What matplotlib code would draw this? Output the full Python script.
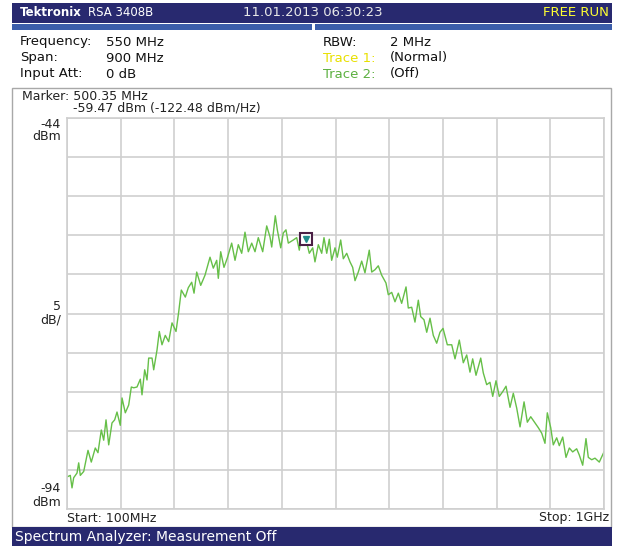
import matplotlib
matplotlib.use('Agg')
import matplotlib.pyplot as plt
from matplotlib.patches import Rectangle

# Trace: frequency (MHz) and level (dBm)
freq_mhz = [100, 105.5, 108.4, 111.2, 116.8, 119.6, 122.3, 128.0, 135.2, 140.7,
            147.4, 151.9, 157.5, 161.5, 165.4, 169.9, 175.4, 179.9, 183.8, 189.3,
            192.2, 197.7, 203.4, 207.8, 211.8, 217.3, 222.9, 225.7, 230.2, 234.1,
            236.9, 242.5, 245.3, 250.8, 254.7, 259.2, 264.7, 270.4, 276.0, 282.7,
            287.2, 291.6, 298.3, 303.3, 309.0, 312.9, 317.4, 324.1, 331.3, 339.7,
            345.2, 350.9, 353.6, 357.6, 363.1, 368.7, 376.0, 381.6, 387.1, 392.8,
            398.3, 403.9, 409.6, 415.1, 420.6, 428.0, 434.7, 440.2, 443.1, 449.1,
            452.5, 458.2, 462.5, 467.0, 470.9, 479.3, 485.0, 489.3, 493.4, 500.35,
            506.1, 511.8, 515.6, 521.2, 526.9, 530.7, 535.3, 539.6, 543.6, 549.2,
            553.0, 558.7, 563.1, 568.8, 574.3, 578.8, 582.7, 588.2, 593.9, 599.4,
            606.6, 610.7, 616.2, 621.7, 627.4, 634.6, 638.5, 644.2, 649.7, 655.3,
            660.9, 668.2, 672.0, 677.7, 683.2, 688.8, 692.8, 698.3, 702.9, 708.4,
            713.9, 719.6, 725.1, 730.2, 737.4, 744.8, 750.3, 757.5, 764.2, 769.9,
            775.4, 779.9, 785.5, 793.4, 797.7, 803.4, 808.9, 813.5, 819.0, 824.5,
            830.2, 835.8, 842.5, 848.0, 853.7, 859.3, 866.0, 871.5, 877.2, 884.4,
            889.9, 895.6, 901.1, 905.0, 910.7, 915.0, 920.7, 925.1, 930.8, 936.3,
            941.9, 947.5, 954.2, 958.6, 964.3, 969.8, 973.7, 979.4, 984.9, 992.1,
            1000]
level_dbm = [-89.9, -89.7, -91.3, -90.0, -89.4, -88.1, -89.7, -89.2, -86.5, -88.0,
             -86.2, -86.8, -83.9, -85.2, -82.6, -85.8, -83.0, -82.6, -81.6, -83.3,
             -79.8, -81.7, -80.7, -78.4, -78.5, -78.4, -77.4, -79.4, -76.2, -77.5,
             -74.7, -74.7, -76.2, -73.7, -71.3, -73.0, -71.8, -72.6, -70.2, -71.3,
             -68.8, -66.0, -66.9, -65.7, -65.0, -66.4, -63.7, -65.4, -64.1, -61.8,
             -63.2, -62.2, -64.5, -61.1, -63.1, -61.9, -60.0, -62.2, -60.2, -61.3,
             -58.6, -61.1, -60.0, -61.1, -59.3, -61.1, -57.8, -59.2, -60.5, -56.5,
             -58.3, -60.6, -58.7, -58.3, -60.0, -59.6, -59.3, -60.9, -59.0, -59.47,
             -61.3, -60.6, -62.4, -60.2, -61.3, -59.3, -61.3, -59.5, -62.2, -60.6,
             -61.8, -59.6, -62.0, -61.3, -62.4, -63.1, -64.8, -63.7, -62.3, -63.8,
             -60.9, -63.7, -63.4, -62.9, -64.1, -65.1, -66.6, -66.3, -67.5, -66.4,
             -67.7, -65.6, -68.3, -68.2, -70.1, -67.3, -69.4, -69.8, -71.4, -69.6,
             -71.8, -72.8, -71.4, -70.9, -73.0, -73.0, -74.8, -72.4, -75.3, -74.3,
             -76.5, -74.8, -76.9, -74.7, -76.6, -78.1, -77.8, -79.6, -77.6, -79.6,
             -79.0, -78.3, -81.0, -79.2, -81.1, -83.5, -80.3, -82.9, -82.2, -83.0,
             -83.6, -84.3, -85.6, -81.7, -83.6, -85.8, -84.9, -85.9, -84.8, -87.4,
             -86.2, -86.7, -86.3, -87.1, -88.4, -85.0, -87.4, -87.7, -87.5, -88.0,
             -86.7]

marker_freq = 500.35
marker_level = -59.47

x_ticks = [100 + 90 * i for i in range(11)]
y_ticks = [-94 + 5 * i for i in range(11)]

W, H = 620, 546
NAVY = '#28296f'
BLUE = '#3b5daa'


def fx(px):
    return px / W


def fy(py):
    return 1 - py / H


fig = plt.figure(figsize=(6.2, 5.46), dpi=100)
fig.patch.set_facecolor('white')

# title bar + blue strip
fig.patches.append(Rectangle((fx(12), fy(23)), fx(600), 20 / H, transform=fig.transFigure,
                             facecolor=NAVY, edgecolor='none'))
fig.patches.append(Rectangle((fx(12), fy(30)), fx(300), 6 / H, transform=fig.transFigure,
                             facecolor=BLUE, edgecolor='none'))
fig.patches.append(Rectangle((fx(315), fy(30)), fx(297), 6 / H, transform=fig.transFigure,
                             facecolor=BLUE, edgecolor='none'))
# panel frame and status bar
fig.patches.append(Rectangle((fx(12), fy(527)), fx(599), 439 / H, transform=fig.transFigure,
                             facecolor='none', edgecolor='#a8a8a8', linewidth=1))
fig.patches.append(Rectangle((fx(12), fy(546)), fx(600), 19 / H, transform=fig.transFigure,
                             facecolor=NAVY, edgecolor='none'))

fig.text(fx(20), fy(13), 'Tektronix', color='white', fontsize=8.5, fontweight='bold', va='center')
fig.text(fx(88), fy(13), 'RSA 3408B', color='white', fontsize=8.5, va='center')
fig.text(fx(313), fy(13), '11.01.2013 06:30:23', color='#e8e8e8', fontsize=9.5, va='center', ha='center')
fig.text(fx(609), fy(13), 'FREE RUN', color='#ffff33', fontsize=9.5, va='center', ha='right')

hdr = dict(fontsize=9.5, va='center', color='#111111')
fig.text(fx(20), fy(42), 'Frequency:', **hdr)
fig.text(fx(106), fy(42), '550 MHz', **hdr)
fig.text(fx(20), fy(58), 'Span:', **hdr)
fig.text(fx(106), fy(58), '900 MHz', **hdr)
fig.text(fx(20), fy(74), 'Input Att:', **hdr)
fig.text(fx(106), fy(74), '0 dB', **hdr)
fig.text(fx(323), fy(42), 'RBW:', **hdr)
fig.text(fx(390), fy(42), '2 MHz', **hdr)
fig.text(fx(323), fy(58), 'Trace 1:', fontsize=9.5, va='center', color='#e8e000')
fig.text(fx(390), fy(58), '(Normal)', **hdr)
fig.text(fx(323), fy(74), 'Trace 2:', fontsize=9.5, va='center', color='#5cb040')
fig.text(fx(390), fy(74), '(Off)', **hdr)

lbl = dict(fontsize=9, color='#222222')
fig.text(fx(22), fy(96), 'Marker: 500.35 MHz', va='center', **lbl)
fig.text(fx(73), fy(108), '-59.47 dBm (-122.48 dBm/Hz)', va='center', **lbl)
fig.text(fx(61), fy(124), '-44', ha='right', va='center', **lbl)
fig.text(fx(61), fy(137), 'dBm', ha='right', va='center', **lbl)
fig.text(fx(61), fy(306), '5', ha='right', va='center', **lbl)
fig.text(fx(61), fy(320), 'dB/', ha='right', va='center', **lbl)
fig.text(fx(61), fy(489), '-94', ha='right', va='center', **lbl)
fig.text(fx(61), fy(502), 'dBm', ha='right', va='center', **lbl)
fig.text(fx(67), fy(518), 'Start: 100MHz', va='center', **lbl)
fig.text(fx(609), fy(518), 'Stop: 1GHz', ha='right', va='center', **lbl)
fig.text(fx(15), fy(537), 'Spectrum Analyzer: Measurement Off', color='white',
         fontsize=10, va='center')

ax = fig.add_axes([fx(67), fy(509), fx(537), 391 / H])
ax.set_xlim(100, 1000)
ax.set_ylim(-94, -44)
ax.set_xticks(x_ticks)
ax.set_yticks(y_ticks)
ax.tick_params(length=0, labelbottom=False, labelleft=False)
ax.grid(True, color='#cfcfcf', linewidth=1.2)
for s in ax.spines.values():
    s.set_color('#cfcfcf')
    s.set_linewidth(1.2)

ax.plot(freq_mhz, level_dbm, color='#66bf48', linewidth=1.0)
ax.plot([marker_freq], [marker_level], marker='s', markersize=9, markerfacecolor='white',
        markeredgecolor='#4a1f45', markeredgewidth=1.5, linestyle='none')
ax.plot([marker_freq], [marker_level], marker='v', markersize=4, color='#1f8a8a', linestyle='none')

fig.savefig('out.png', dpi=100)
